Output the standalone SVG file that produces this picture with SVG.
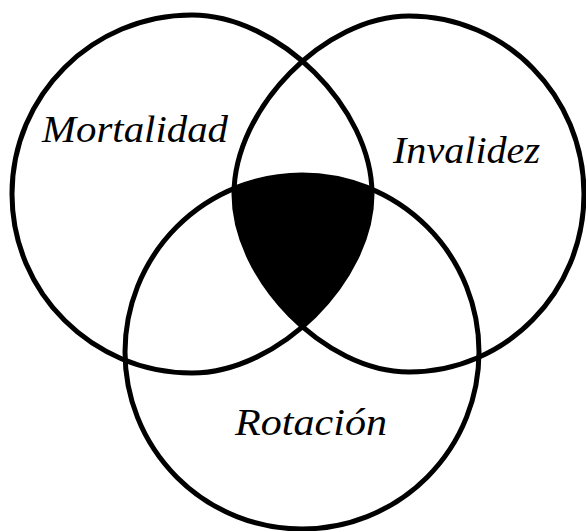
<svg xmlns="http://www.w3.org/2000/svg" width="586" height="531" viewBox="0 0 586 531">
<style>
.c{fill:none;stroke:#000;stroke-width:5}
.t{font-family:"Liberation Serif","Times New Roman",serif;font-style:italic;font-size:38px;fill:#000}
</style>
<defs>
<path id="pL" d="M12,194 C12,95.1 92.6,15 192,15 C278.4,15 372,108 372,194 C372,280 278.4,373 192,373 C92.6,373 12,292.9 12,194 Z"/>
<path id="pR" d="M409,16 C505.7,16 584,95.7 584,194 C584,292.3 505.7,372 409,372 C325,372 234,279.4 234,194 C234,108.6 325,16 409,16 Z"/>
<clipPath id="clipL"><use href="#pL"/></clipPath>
<clipPath id="clipR"><use href="#pR"/></clipPath>
</defs>
<rect width="586" height="531" fill="#fff"/>
<g id="core" clip-path="url(#clipL)"><g clip-path="url(#clipR)"><circle cx="302" cy="352" r="177" fill="#000"/></g></g>
<g id="mortalidad"><use href="#pL" class="c"/><text class="t" x="42" y="142" textLength="186" lengthAdjust="spacingAndGlyphs">Mortalidad</text></g>
<g id="invalidez"><use href="#pR" class="c"/><text class="t" x="393" y="163" textLength="147" lengthAdjust="spacingAndGlyphs">Invalidez</text></g>
<g id="rotacion"><circle class="c" cx="302" cy="352" r="177"/><text class="t" x="235" y="435" textLength="152" lengthAdjust="spacingAndGlyphs">Rotación</text></g>
</svg>
